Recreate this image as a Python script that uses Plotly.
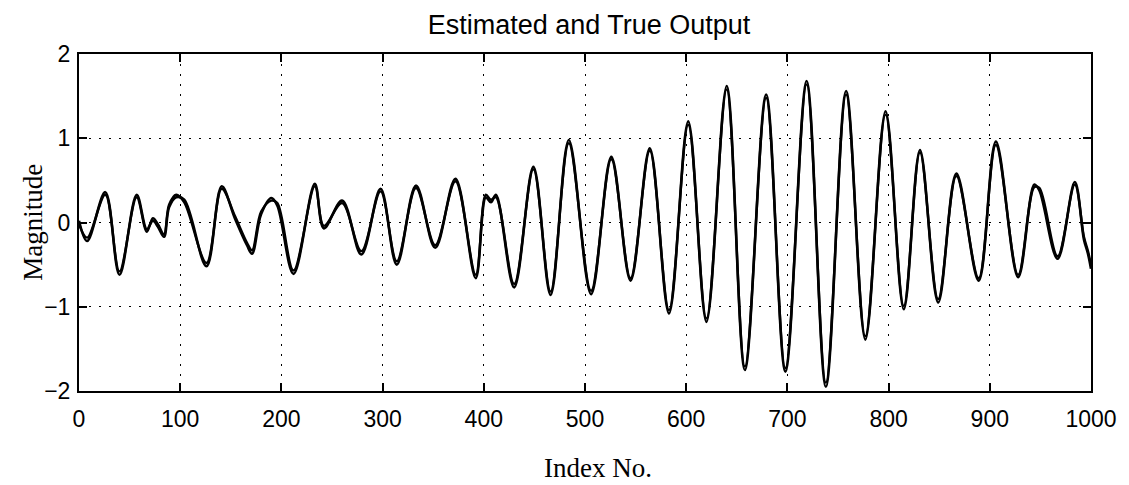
import plotly.graph_objects as go

# Index positions of the read-off points (peaks, troughs, shoulders)
index_no = [0, 8, 26, 40, 57, 67, 73, 78, 84, 89, 96, 104, 126, 141, 154, 166, 171,
            180, 190, 196, 212, 233, 242, 260, 279, 298, 314, 333, 352, 372, 392, 402,
            407, 412, 430, 449, 466, 484, 506, 526, 545, 564, 583, 602, 620, 640, 658,
            679, 698, 719, 738, 758, 777, 797, 815, 831, 849, 867, 889, 906, 928, 944,
            949, 967, 984, 993, 997, 1000]

true_output = [0.02, -0.22, 0.36, -0.62, 0.33, -0.08, 0.02, -0.05, -0.17, 0.18, 0.30, 0.27,
               -0.52, 0.43, 0.05, -0.27, -0.37, 0.10, 0.29, 0.20, -0.61, 0.46, -0.07, 0.26,
               -0.38, 0.40, -0.50, 0.44, -0.30, 0.52, -0.66, 0.30, 0.24, 0.33, -0.77, 0.66,
               -0.86, 0.98, -0.85, 0.78, -0.69, 0.88, -1.08, 1.20, -1.18, 1.62, -1.75, 1.52,
               -1.77, 1.68, -1.95, 1.56, -1.39, 1.32, -1.03, 0.86, -0.95, 0.58, -0.69, 0.96,
               -0.65, 0.45, 0.38, -0.43, 0.48, -0.20, -0.37, -0.55]

estimated_output = [-0.02, -0.18, 0.33, -0.58, 0.30, -0.11, 0.05, -0.02, -0.14, 0.21, 0.33, 0.24,
                    -0.48, 0.40, 0.08, -0.24, -0.33, 0.13, 0.26, 0.23, -0.57, 0.43, -0.04, 0.23,
                    -0.34, 0.37, -0.46, 0.41, -0.27, 0.49, -0.62, 0.33, 0.27, 0.30, -0.73, 0.63,
                    -0.82, 0.94, -0.81, 0.75, -0.66, 0.85, -1.04, 1.16, -1.14, 1.58, -1.71, 1.48,
                    -1.73, 1.64, -1.90, 1.52, -1.35, 1.28, -0.99, 0.83, -0.91, 0.55, -0.66, 0.92,
                    -0.62, 0.42, 0.41, -0.40, 0.45, -0.17, -0.34, -0.50]

x_ticks = [0, 100, 200, 300, 400, 500, 600, 700, 800, 900, 1000]
y_ticks = [-2, -1, 0, 1, 2]

fig = go.Figure()
fig.add_trace(go.Scatter(x=index_no, y=true_output, mode="lines", name="True",
                         line=dict(color="black", width=2.6, shape="spline", smoothing=1.0)))
fig.add_trace(go.Scatter(x=index_no, y=estimated_output, mode="lines", name="Estimated",
                         line=dict(color="black", width=2.4, shape="spline", smoothing=1.0)))

axis_common = dict(
    showline=True, linecolor="black", linewidth=2, mirror="ticks",
    ticks="inside", ticklen=8, tickwidth=1.5, tickcolor="black",
    showgrid=True, gridcolor="black", gridwidth=1.3, griddash="2px,8px",
    zeroline=False,
    tickfont=dict(family="Liberation Sans", size=23, color="black"),
)

fig.update_xaxes(range=[0, 1000], tickvals=x_ticks, ticktext=[str(v) for v in x_ticks],
                 ticklabelstandoff=6, **axis_common)
fig.update_yaxes(range=[-2, 2], tickvals=y_ticks, ticktext=["\u22122", "\u22121", "0", "1", "2"],
                 ticklabelstandoff=2, **axis_common)

fig.update_layout(
    width=1129, height=485,
    margin=dict(l=79, r=34, t=54, b=94),
    paper_bgcolor="white", plot_bgcolor="white",
    showlegend=False,
    title=dict(text="Estimated and True Output", x=(591 - 79) / 1016, xref="paper",
               y=(485 - 25) / 485, yref="container", yanchor="middle", xanchor="center",
               font=dict(family="Liberation Sans", size=27, color="black")),
    annotations=[
        dict(text="Index No.", xref="paper", yref="paper", x=(600 - 79) / 1016,
             y=-(468 - 391) / 337, xanchor="center", yanchor="middle", showarrow=False,
             font=dict(family="Liberation Serif", size=27, color="black")),
        dict(text="Magnitude", xref="paper", yref="paper", x=(32 - 79) / 1016, y=0.5,
             xanchor="center", yanchor="middle", textangle=-90, showarrow=False,
             font=dict(family="Liberation Serif", size=27, color="black")),
    ],
)

fig.write_html("out.html")
